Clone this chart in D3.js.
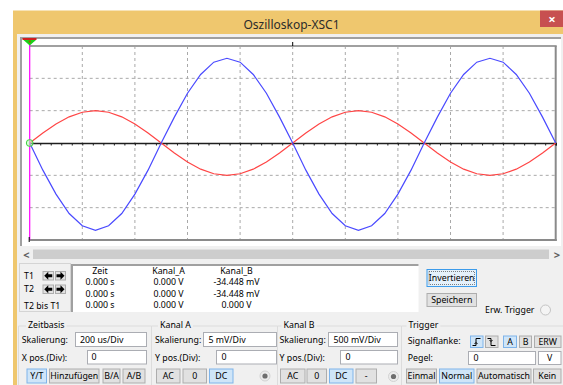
<!DOCTYPE html>
<html><head><meta charset="utf-8">
<script src="https://cdn.jsdelivr.net/npm/d3@7"></script>
<style>
body{margin:0;background:#fff;overflow:hidden}
svg{display:block}
text{font-family:"Noto Sans","Open Sans",sans-serif;fill:#000}
</style>
</head><body>
<svg id="c" width="563" height="385"></svg>
<script>
// ---------- data ----------
const windowTitle = "Oszilloskop-XSC1";
const timeUs = [0,50,100,150,200,250,300,350,400,450,500,550,600,650,700,750,800,850,900,950,1000,
  1050,1100,1150,1200,1250,1300,1350,1400,1450,1500,1550,1600,1650,1700,1750,1800,1850,1900,1950,2000];
const kanalA_mV = [0,1.55,2.94,4.05,4.76,5.0,4.76,4.05,2.94,1.55,0,-1.55,-2.94,-4.05,-4.76,-5.0,-4.76,-4.05,-2.94,-1.55,0,
  1.55,2.94,4.05,4.76,5.0,4.76,4.05,2.94,1.55,0,-1.55,-2.94,-4.05,-4.76,-5.0,-4.76,-4.05,-2.94,-1.55,0];
const kanalB_V = [0,-0.42,-0.79,-1.09,-1.28,-1.35,-1.28,-1.09,-0.79,-0.42,0,0.40,0.77,1.06,1.25,1.31,1.25,1.06,0.77,0.40,0,
  -0.42,-0.79,-1.09,-1.28,-1.35,-1.28,-1.09,-0.79,-0.42,0,0.40,0.77,1.06,1.25,1.31,1.25,1.06,0.77,0.40,0];
const timePerDivUs = 200;     // 200 us/Div
const kanalA_mVPerDiv = 5;    // 5 mV/Div
const kanalB_VPerDiv = 0.5;   // 500 mV/Div
const cursorHeaders = ["Zeit","Kanal_A","Kanal_B"];
const cursorLabels = ["T1","T2","T2 bis T1"];
const cursorRows = [
  ["0.000 s","0.000 V","-34.448 mV"],
  ["0.000 s","0.000 V","-34.448 mV"],
  ["0.000 s","0.000 V","0.000 V"]];
const zeitbasisLabels = ["Zeitbasis","Skalierung:","X pos.(Div):","200 us/Div","0"];
const zeitbasisButtons = ["Y/T","Hinzufügen","B/A","A/B"];
const kanalALabels = ["Kanal A","Skalierung:","Y pos.(Div):","5 mV/Div","0"];
const kanalAButtons = ["AC","0","DC"];
const kanalBLabels = ["Kanal B","Skalierung:","Y pos.(Div):","500 mV/Div","0"];
const kanalBButtons = ["AC","0","DC","-"];
const triggerLabels = ["Trigger","Signalflanke:","Pegel:","0","V"];
const triggerModeButtons = ["Einmal","Normal","Automatisch","Kein"];
const sideButtons = ["Invertieren","Speichern","Erw. Trigger"];

// ---------- drawing ----------
const svg = d3.select("#c");
const FS = 8.8;

function label(x, y, t, opts={}) {
  return svg.append("text").attr("x", x).attr("y", y)
    .attr("dominant-baseline", "central")
    .attr("text-anchor", opts.anchor || "start")
    .style("font-size", (opts.size || FS) + "px")
    .style("fill", opts.fill || "#000")
    .text(t);
}
function button(x0, x1, y0, y1, t, sel) {
  svg.append("rect").attr("x", x0 + 0.5).attr("y", y0 + 0.5)
    .attr("width", x1 - x0 - 1).attr("height", y1 - y0 - 1)
    .attr("fill", sel ? "#cfe5f8" : "#e1e1e1")
    .attr("stroke", sel ? "#7eb4ea" : "#adadad");
  if (t !== null) label((x0 + x1) / 2, (y0 + y1) / 2, t, {anchor: "middle"});
}
function textbox(x0, x1, y0, y1, t, tx, anchor) {
  svg.append("rect").attr("x", x0 + 0.5).attr("y", y0 + 0.5)
    .attr("width", x1 - x0 - 1).attr("height", y1 - y0 - 1)
    .attr("fill", "#fff").attr("stroke", "#abadb3");
  label(tx, (y0 + y1) / 2, t, {anchor: anchor || "start"});
}
function dot(cx, cy) {
  svg.append("circle").attr("cx", cx).attr("cy", cy).attr("r", 5)
    .attr("fill", "#ececec").attr("stroke", "#d2d2d2");
  svg.append("circle").attr("cx", cx).attr("cy", cy).attr("r", 2.6).attr("fill", "#6e6e6e");
}

// window frame
svg.append("rect").attr("x", 13).attr("y", 10.5).attr("width", 550).attr("height", 375).attr("fill", "#efc76e");
svg.append("rect").attr("x", 17).attr("y", 34).attr("width", 546).attr("height", 351).attr("fill", "#f0f0f0");
label(291.5, 24, windowTitle, {anchor: "middle", size: 12, fill: "#2b2b2b"});
svg.append("rect").attr("x", 540).attr("y", 10.5).attr("width", 23).attr("height", 16.5).attr("fill", "#c75050");
label(552, 18.5, "×", {anchor: "middle", size: 13, fill: "#fff"}).style("font-weight", "bold");

// display frame
svg.append("rect").attr("x", 20).attr("y", 37).attr("width", 541).attr("height", 209).attr("fill", "#fff");
svg.append("path").attr("d", "M21,246V38H561").attr("fill", "none").attr("stroke", "#a0a0a0").attr("stroke-width", 2);

// scales
const x0p = 29.7, x1p = 555.7;
const x = d3.scaleLinear().domain([0, timePerDivUs * 10]).range([x0p, x1p]);
const yDiv = d3.scaleLinear().domain([-3, 3]).range([240, 46]);

// grid
const gridG = svg.append("g");
gridG.selectAll("line.v").data(d3.range(1, 10).map(i => i * timePerDivUs)).join("line")
  .attr("x1", d => x(d)).attr("x2", d => x(d)).attr("y1", yDiv(3)).attr("y2", yDiv(-3))
  .attr("stroke", "#a9a9a9").attr("stroke-dasharray", "3,3");
gridG.selectAll("line.h").data([-2, -1, 1, 2]).join("line")
  .attr("x1", x0p).attr("x2", x1p).attr("y1", d => yDiv(d)).attr("y2", d => yDiv(d))
  .attr("stroke", "#a9a9a9").attr("stroke-dasharray", "3,3");

// borders
svg.append("line").attr("x1", x0p).attr("x2", x1p + 1).attr("y1", yDiv(3)).attr("y2", yDiv(3))
  .attr("stroke", "#a0a0a0").attr("stroke-width", 2);
svg.append("line").attr("x1", x0p).attr("x2", x1p + 1).attr("y1", yDiv(-3)).attr("y2", yDiv(-3))
  .attr("stroke", "#8a8a8a").attr("stroke-width", 2);
svg.append("line").attr("x1", x1p).attr("x2", x1p).attr("y1", yDiv(3)).attr("y2", yDiv(-3) + 1)
  .attr("stroke", "#8a8a8a").attr("stroke-width", 2);
// top center tick
svg.append("line").attr("x1", x(1000)).attr("x2", x(1000)).attr("y1", 42).attr("y2", yDiv(3))
  .attr("stroke", "#000");

// center axis with minor ticks
const axis = d3.axisBottom(x).tickValues(d3.range(0, 2001, timePerDivUs / 5)).tickSize(2.5).tickFormat("");
const ax = svg.append("g").attr("transform", `translate(0,${yDiv(0)})`).call(axis);
ax.select(".domain").attr("stroke", "#1e1e1e").attr("stroke-width", 1.6);
ax.selectAll(".tick line").attr("stroke", "#1e1e1e");

// traces
const pts = timeUs.map((t, i) => ({t, a: kanalA_mV[i], b: kanalB_V[i]}));
const lineA = d3.line().x(d => x(d.t)).y(d => yDiv(d.a / kanalA_mVPerDiv));
const lineB = d3.line().x(d => x(d.t)).y(d => yDiv(d.b / kanalB_VPerDiv));
svg.append("path").datum(pts).attr("d", lineA).attr("fill", "none").attr("stroke", "#ff4545").attr("stroke-width", 1.2);
svg.append("path").datum(pts).attr("d", lineB).attr("fill", "none").attr("stroke", "#4a4aff").attr("stroke-width", 1.2);

// cursor line + markers
svg.append("line").attr("x1", x0p).attr("x2", x0p).attr("y1", 43).attr("y2", yDiv(-3))
  .attr("stroke", "#ff00ff").attr("stroke-width", 1.2);
svg.append("line").attr("x1", x0p - 0.5).attr("x2", x0p - 0.5).attr("y1", 237).attr("y2", 242).attr("stroke", "#000");
svg.append("rect").attr("x", 22.5).attr("y", 38).attr("width", 14).attr("height", 2).attr("fill", "#d02020");
svg.append("path").attr("d", `M23.5,40H36L${x0p},45.5Z`).attr("fill", "#19d319");
svg.append("rect").attr("x", x0p - 1).attr("y", 40.5).attr("width", 2).attr("height", 2).attr("fill", "#a05a00");
svg.append("circle").attr("cx", x0p).attr("cy", yDiv(0)).attr("r", 3.4)
  .attr("fill", "rgba(180,255,180,0.6)").attr("stroke", "#40d040").attr("stroke-width", 1);

// scrollbar
svg.append("rect").attr("x", 33).attr("y", 249.5).attr("width", 516).attr("height", 9.5).attr("fill", "#cdcdcd");
label(26.5, 254, "<", {anchor: "middle", size: 11, fill: "#606060"}).style("font-weight", "bold");
label(557, 254, ">", {anchor: "middle", size: 11, fill: "#606060"}).style("font-weight", "bold");

// cursor panel
svg.append("rect").attr("x", 19.5).attr("y", 263.5).attr("width", 51).attr("height", 48)
  .attr("fill", "#f0f0f0").attr("stroke", "#d4d4d4");
const cy = [275.5, 289, 306];
cursorLabels.forEach((t, i) => label(24, cy[i], t));
function arrowBtn(xa, xb, ya, yb, dir) {
  button(xa, xb, ya, yb, null, false);
  const mx = (xa + xb) / 2, my = (ya + yb) / 2;
  const s = dir;
  svg.append("path")
    .attr("d", `M${mx - 4 * s},${my}L${mx},${my - 4}V${my - 1.5}H${mx + 4 * s}V${my + 1.5}H${mx}V${my + 4}Z`)
    .attr("fill", "#000");
}
arrowBtn(42.5, 54, 271, 280.5, 1); arrowBtn(55, 66, 271, 280.5, -1);
arrowBtn(42.5, 54, 284.5, 294, 1); arrowBtn(55, 66, 284.5, 294, -1);

svg.append("rect").attr("x", 71.5).attr("y", 264).attr("width", 347).attr("height", 48).attr("fill", "#fff");
svg.append("path").attr("d", "M72,312V265H418.5").attr("fill", "none").attr("stroke", "#a0a0a0").attr("stroke-width", 2);
const colX = [100, 168.5, 236.5];
cursorHeaders.forEach((t, i) => label(colX[i], 271, t, {anchor: "middle"}));
const rowY = [282, 293.5, 305];
cursorRows.forEach((r, j) => r.forEach((t, i) => label(colX[i], rowY[j], t, {anchor: "middle"})));

// side buttons
svg.append("rect").attr("x", 427).attr("y", 269.5).attr("width", 49.5).attr("height", 17)
  .attr("fill", "#e5f1fb").attr("stroke", "#3c9bea");
svg.append("rect").attr("x", 429).attr("y", 271.5).attr("width", 45.5).attr("height", 13)
  .attr("fill", "none").attr("stroke", "#333").attr("stroke-width", 0.6).attr("stroke-dasharray", "1,1");
label(451.7, 278, sideButtons[0], {anchor: "middle"});
button(426.5, 477, 293, 307, sideButtons[1], false);
label(485, 310, sideButtons[2]);
svg.append("circle").attr("cx", 545.5).attr("cy", 310).attr("r", 5).attr("fill", "#f4f4f4").attr("stroke", "#c4c4c4");

// group boxes
const gTop = 326;
function group(xa, xb, title, tx) {
  svg.append("path").attr("d", `M${xa},385V${gTop}H${xb}`).attr("fill", "none").attr("stroke", "#dcdcdc");
  const t = label(tx, 325, title);
  const w = t.node().getComputedTextLength();
  svg.insert("rect", () => t.node()).attr("x", tx - 2).attr("y", 320).attr("width", w + 4).attr("height", 10).attr("fill", "#f0f0f0");
}
group(18.5, 151.5, zeitbasisLabels[0], 28);
group(151.5, 277.5, kanalALabels[0], 160);
group(277.5, 401.5, kanalBLabels[0], 283.5);
group(401.5, 563, triggerLabels[0], 408.5);

const r1 = [332, 347], r2 = [350, 364.5], r3 = [368.5, 383.5];
// Zeitbasis
label(21.7, 340, zeitbasisLabels[1]);
textbox(75, 147, r1[0], r1[1], zeitbasisLabels[3], 80);
label(21.7, 357.5, zeitbasisLabels[2]);
textbox(87, 147, r2[0], r2[1], zeitbasisLabels[4], 91.5);
[[26.5, 47], [49, 99.5], [102.5, 120.5], [122.5, 145.5]].forEach((b, i) =>
  button(b[0], b[1], r3[0], r3[1], zeitbasisButtons[i], i === 0));
// Kanal A
label(155, 340, kanalALabels[1]);
textbox(203, 277, r1[0], r1[1], kanalALabels[3], 208.5);
label(155, 357.5, kanalALabels[2]);
textbox(216, 277, r2[0], r2[1], kanalALabels[4], 221.5);
[[156, 180.5], [182.5, 207], [209, 233.5]].forEach((b, i) =>
  button(b[0], b[1], r3[0], r3[1], kanalAButtons[i], i === 2));
dot(265, 376);
// Kanal B
label(279.5, 340, kanalBLabels[1]);
textbox(328, 398, r1[0], r1[1], kanalBLabels[3], 333.5);
label(279.5, 357.5, kanalBLabels[2]);
textbox(340, 398, r2[0], r2[1], kanalBLabels[4], 345.5);
[[280, 305.5], [306.5, 327], [329, 353.5], [355.5, 377]].forEach((b, i) =>
  button(b[0], b[1], r3[0], r3[1], kanalBButtons[i], i === 2));
dot(393.5, 376.5);
// Trigger
label(407.7, 341, triggerLabels[1]);
button(470, 483.5, 335.5, 348, null, true);
button(485, 498.5, 335.5, 348, null, false);
svg.append("path").attr("d", "M472.5,345.5H476V338.5H480.5M476,342.5l-1.5,1.5M476,342.5l1.5,1.5").attr("fill", "none").attr("stroke", "#000").attr("stroke-width", 1);
svg.append("path").attr("d", "M487.5,338.5H491V345.5H495.5M491,341.5l-1.5,-1.5M491,341.5l1.5,-1.5").attr("fill", "none").attr("stroke", "#000").attr("stroke-width", 1);
[[503, 517, "A", true], [519, 532, "B", false], [534, 561.5, "ERW", false]].forEach(b =>
  button(b[0], b[1], 335.5, 348, b[2], b[3]));
label(407.7, 357.5, triggerLabels[2]);
textbox(468, 536, 351, 365, triggerLabels[3], 473.5);
textbox(538, 561.5, 351, 365, triggerLabels[4], 549.7, "middle");
[[406, 437], [439, 474.5], [476.5, 531.5], [533, 561.5]].forEach((b, i) =>
  button(b[0], b[1], r3[0], r3[1], triggerModeButtons[i], i === 1));
</script>
</body></html>
